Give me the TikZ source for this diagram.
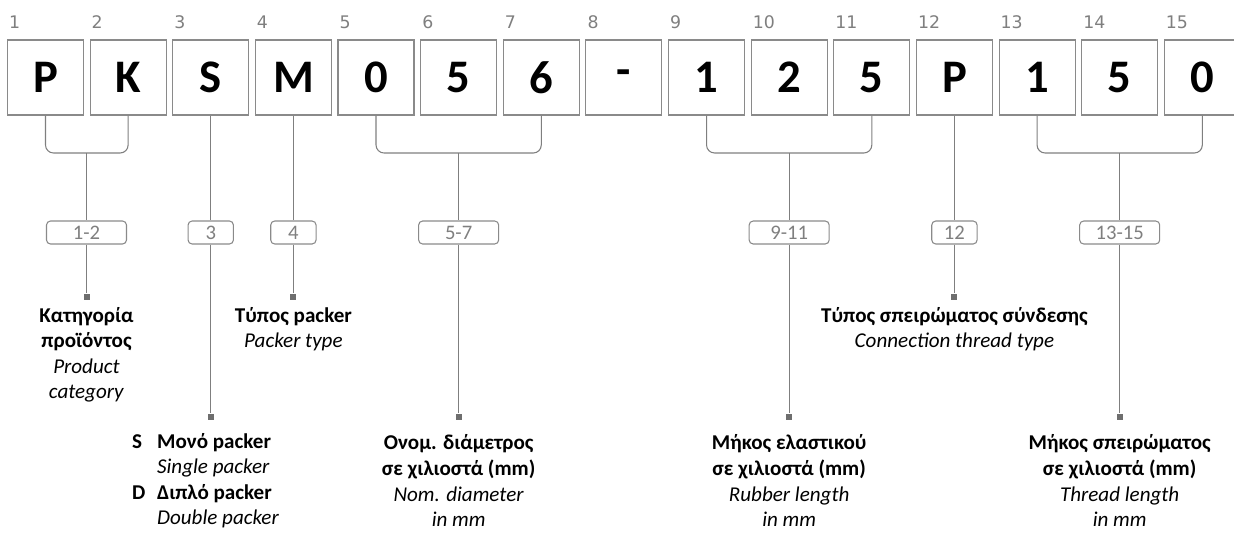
\documentclass[tikz,border=0pt]{standalone}
\usepackage{fontspec}
\setmainfont{Carlito}
\newfontfamily\posfont{DejaVu Sans}
\usetikzlibrary{positioning}
\definecolor{LineGray}{HTML}{7F7F7F}
\definecolor{BoxGray}{HTML}{8A8A8A}
\definecolor{TextGray}{HTML}{7F7F7F}
\definecolor{DotGray}{HTML}{6E6E6E}

\begin{document}
\begin{tikzpicture}[x=0.75pt, y=-0.75pt, line width=0.8pt,
        every node/.append style={font=\fontsize{15.8}{19.2}\selectfont},
        link/.style={draw=LineGray, rounded corners=6pt}]
      \tikzstyle{letterbox} = [draw=BoxGray, minimum width=57pt, minimum height=56.25pt, inner sep=0pt, font=\fontsize{35}{40}\selectfont\bfseries]
      \tikzstyle{posnum} = [anchor=base west, inner sep=0pt, text=TextGray, font=\posfont\fontsize{13}{15}\selectfont]
      \tikzstyle{rangebox} = [draw=BoxGray, rounded corners=3pt, minimum width=60pt, minimum height=17.25pt, inner sep=0pt, text=TextGray, font=\fontsize{15.5}{18}\selectfont]
      \tikzstyle{onebox} = [rangebox, minimum width=34pt]
      \tikzstyle{endsq} = [fill=DotGray, minimum size=4.5pt, inner sep=0pt]
      \tikzstyle{desc} = [align=center, inner sep=0pt]
      \useasboundingbox (0,0) rectangle (1234,532);
      % code letters and positions
      \foreach \ch [count=\i] in {P,K,S,M,0,5,6,{\raisebox{-5pt}{-}},1,2,5,P,1,5,0} {
        \node[letterbox] (c\i) at ({45.5+82.63*(\i-1)},77.5) {\ch};
        \node[posnum, xshift=1.2pt] (n\i) at (c\i.north west |- 0,28.3) {\i};
      }
      % range boxes
      \node[rangebox] (cat) at (86.5,232.5) {1-2};
      \node[onebox] (mode) at (c3 |- cat) {3};
      \node[onebox] (type) at (c4 |- cat) {4};
      \node[rangebox] (dia) at (c6 |- cat) {5-7};
      \node[rangebox] (rub) at (c10 |- cat) {9-11};
      \node[onebox] (conn) at (c12 |- cat) {12};
      \node[rangebox] (thr) at (c14 |- cat) {13-15};
      % brackets
      \coordinate (jcat) at (cat |- 0,153);
      \coordinate (jdia) at (dia |- 0,153);
      \coordinate (jrub) at (rub |- 0,153);
      \coordinate (jthr) at (thr |- 0,153);
      \draw[link] (c1.south) |- (jcat) -| (c2.south);
      \draw[link] (c5.south) |- (jdia) -| (c7.south);
      \draw[link] (c9.south) |- (jrub) -| (c11.south);
      \draw[link] (c13.south) |- (jthr) -| (c15.south);
      \draw[link] (jcat) -- (cat);
      \draw[link] (jdia) -- (dia);
      \draw[link] (jrub) -- (rub);
      \draw[link] (jthr) -- (thr);
      \draw[link] (c3.south) -- (mode);
      \draw[link] (c4.south) -- (type);
      \draw[link] (c12.south) -- (conn);
      % end marks
      \node[endsq] (scat) at (cat |- 0,297) {};
      \node[endsq] (stype) at (type |- 0,297) {};
      \node[endsq] (sconn) at (conn |- 0,297) {};
      \node[endsq] (smode) at (mode |- 0,416.7) {};
      \node[endsq] (sdia) at (dia |- 0,416.7) {};
      \node[endsq] (srub) at (rub |- 0,416.7) {};
      \node[endsq] (sthr) at (thr |- 0,416.7) {};
      \foreach \a in {cat,type,conn,mode,dia,rub,thr}
        \draw[link] (\a) -- (s\a);
      % descriptions
      \node[desc, below=4.5pt of scat] (tcat) {\textbf{Κατηγορία}\\\textbf{προϊόντος}\\\textit{Product}\\\textit{category}};
      \node[desc, below=4.5pt of stype] (ttype) {\textbf{Τύπος packer}\\\textit{Packer type}};
      \node[desc, below=4.5pt of sconn] (tconn) {\textbf{Τύπος σπειρώματος σύνδεσης}\\\textit{Connection thread type}};
      \node[desc, anchor=north west] (tmode) at ([xshift=-59.3pt, yshift=-7pt]smode.south) {\begin{tabular}{@{}l@{\hspace{8.7pt}}l@{}}
        \textbf{S} & \textbf{Μονό packer}\\
         & \textit{Single packer}\\
        \textbf{D} & \textbf{Διπλό packer}\\
         & \textit{Double packer}
        \end{tabular}};
      \node[desc, below=10.5pt of sdia] (tdia) {\textbf{Ονομ. διάμετρος}\\\textbf{σε χιλιοστά (mm)}\\\textit{Nom. diameter}\\\textit{in mm}};
      \node[desc, below=10.5pt of srub] (trub) {\textbf{Μήκος ελαστικού}\\\textbf{σε χιλιοστά (mm)}\\\textit{Rubber length}\\\textit{in mm}};
      \node[desc, below=10.5pt of sthr] (tthr) {\textbf{Μήκος σπειρώματος}\\\textbf{σε χιλιοστά (mm)}\\\textit{Thread length}\\\textit{in mm}};
\end{tikzpicture}
\end{document}
